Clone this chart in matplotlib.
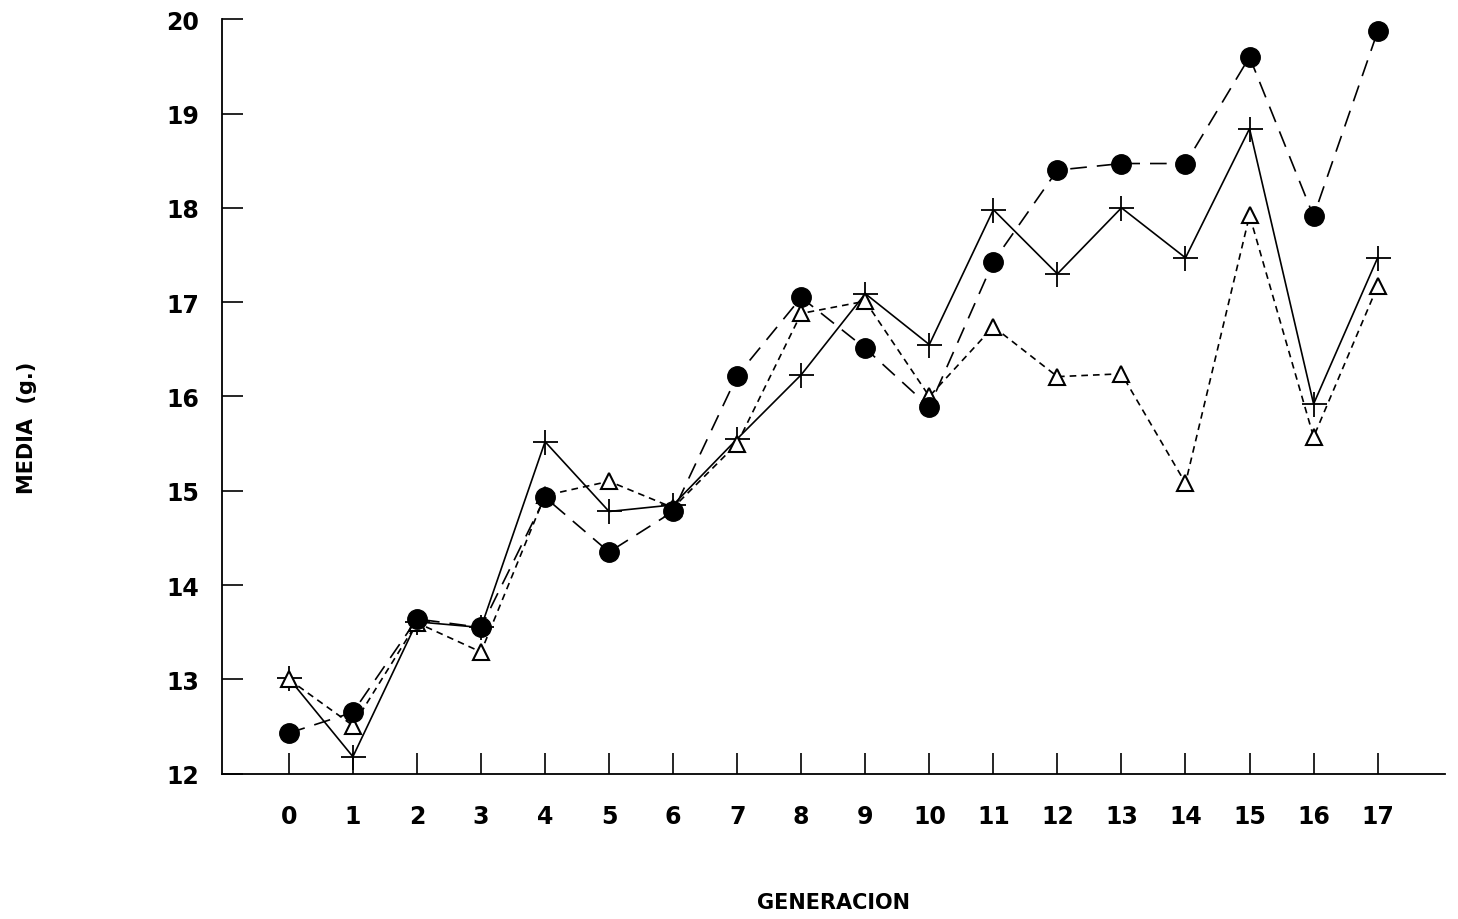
import numpy as np
import matplotlib.pyplot as plt

# generation index and the three series
generacion = list(range(18))
media_circ = [12.43, 12.65, 13.64, 13.55, 14.93, 14.35, 14.78, 16.22, 17.05,
              16.51, 15.89, 17.43, 18.40, 18.47, 18.47, 19.60, 17.91, 19.87]
media_plus = [13.01, 12.18, 13.61, 13.55, 15.52, 14.78, 14.85, 15.55, 16.23,
              17.09, 16.55, 17.98, 17.30, 18.00, 17.47, 18.84, 15.92, 17.47]
media_tri = [13.00, 12.51, 13.60, 13.29, 14.95, 15.10, 14.82, 15.50, 16.88,
             17.01, 16.00, 16.74, 16.21, 16.24, 15.08, 17.92, 15.57, 17.17]
yticks = [12, 13, 14, 15, 16, 17, 18, 19, 20]

plt.rcParams['font.family'] = ['DejaVu Sans']

fig = plt.figure(figsize=(14.58, 9.2), dpi=100)
ax = fig.add_axes([0.152, 0.158, 0.839, 0.82])

ax.plot(generacion, media_plus, '-', color='black', lw=1.2,
        marker='+', ms=18, mew=1.3, zorder=3)
ax.plot(generacion, media_tri, color='black', lw=1.2, ls=(0, (4, 3)),
        marker='^', ms=12, mfc='white', mec='black', mew=1.5, zorder=4)
ax.plot(generacion, media_circ, color='black', lw=1.2, ls=(0, (10, 6)),
        marker='o', ms=14, mfc='black', mec='black', zorder=5)

ax.set_xlim(-1.05, 18.05)
ax.set_ylim(12, 20)
ax.set_xticks(generacion)
ax.set_yticks(yticks)
ax.set_xticklabels([str(g) for g in generacion], fontsize=17, fontweight='heavy')
ax.set_yticklabels([str(v) for v in yticks], fontsize=17, fontweight='heavy')
ax.tick_params(axis='both', direction='in', length=15, width=1.2)
ax.tick_params(axis='x', pad=22)
ax.tick_params(axis='y', pad=16)

for s in ['top', 'right']:
    ax.spines[s].set_visible(False)
for s in ['left', 'bottom']:
    ax.spines[s].set_linewidth(1.3)

ax.set_xlabel('GENERACION', fontsize=15, fontweight='heavy')
ax.set_ylabel('MEDIA  (g.)', fontsize=15, fontweight='heavy')
ax.xaxis.set_label_coords(0.5, -0.157)
ax.yaxis.set_label_coords(-0.151, 0.46)

fig.savefig('out.png', dpi=100)
